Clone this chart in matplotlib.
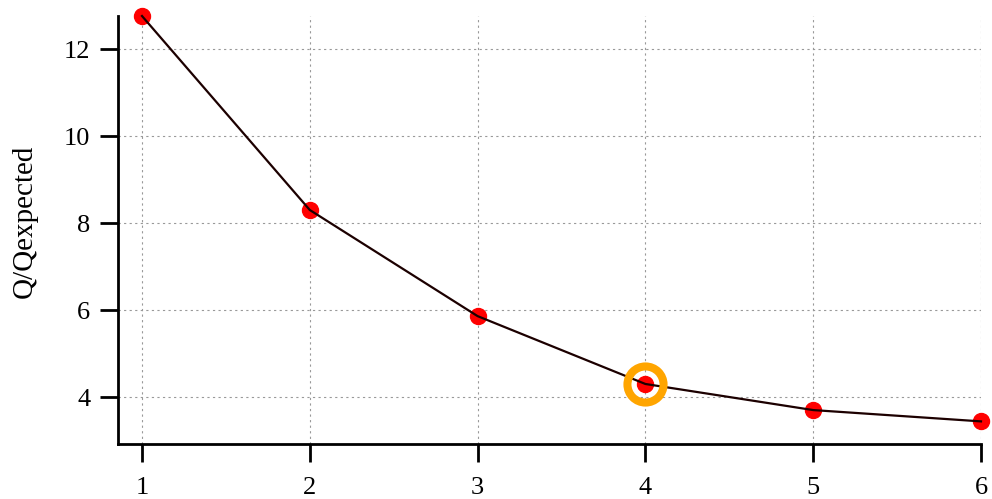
import matplotlib
matplotlib.use("Agg")
import matplotlib.pyplot as plt

# Q/Qexpected against the number of clusters
n_clusters = [1, 2, 3, 4, 5, 6]
q_ratio = [12.76, 8.30, 5.86, 4.30, 3.70, 3.44]
chosen = 4

plt.rcParams["font.family"] = "serif"
plt.rcParams["font.serif"] = ["Liberation Serif", "DejaVu Serif"]

fig = plt.figure(figsize=(9.92, 4.99), dpi=100)
ax = fig.add_axes([118 / 992, 1 - 444 / 499, (981 - 118) / 992, (444 - 16) / 499])

ax.plot(n_clusters, q_ratio, "o", color="red", ms=11.5, clip_on=False, zorder=3)
ax.plot(n_clusters, q_ratio, "-", color="#1c0000", lw=1.6, clip_on=False, zorder=4)
idx = n_clusters.index(chosen)
ax.plot([n_clusters[idx]], [q_ratio[idx]], "o", mfc="none", mec="orange",
        ms=26, mew=5.8, clip_on=False, zorder=5)

ax.set_xlim(0.857, 6)
ax.set_ylim(2.92, 12.76)
ax.set_xticks(n_clusters)
ax.set_yticks([4, 6, 8, 10, 12])

for side in ("top", "right"):
    ax.spines[side].set_visible(False)
for side in ("left", "bottom"):
    ax.spines[side].set_linewidth(2)

ax.tick_params(direction="out", length=13, width=2, labelsize=19)
ax.tick_params(axis="x", pad=11)
ax.tick_params(axis="y", pad=7)
ax.grid(True, ls=(0, (2, 3)), color="#999999", lw=0.8)
ax.set_axisbelow(True)
ax.set_ylabel("Q/Qexpected", fontsize=21, labelpad=19)
ax.yaxis.label.set_y(0.52)

fig.savefig("out.png", dpi=100)
